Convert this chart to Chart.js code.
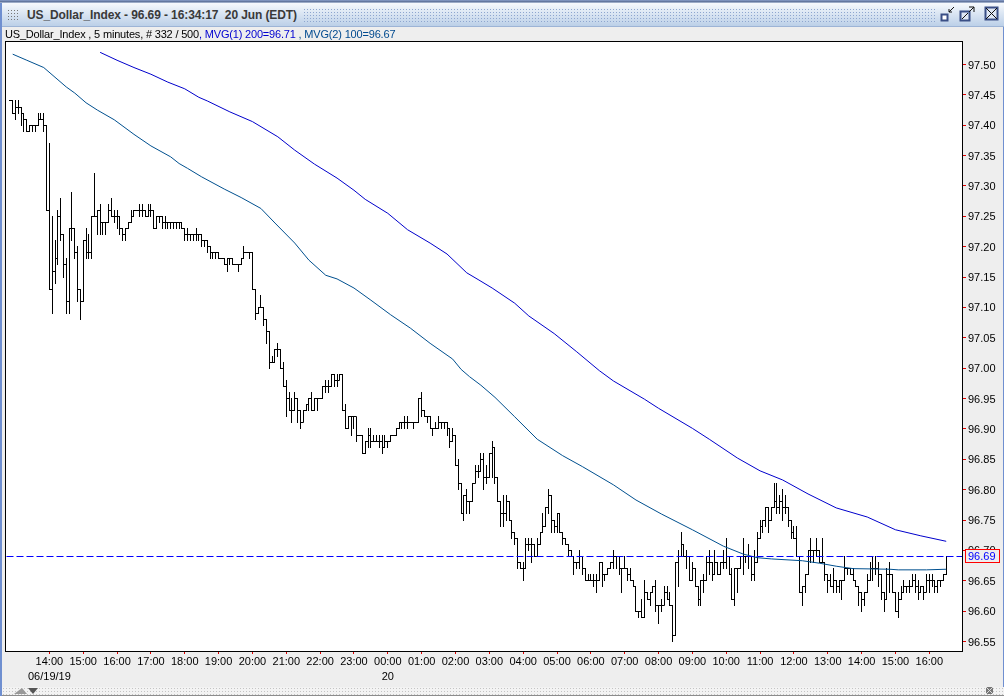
<!DOCTYPE html>
<html>
<head>
<meta charset="utf-8">
<title>US_Dollar_Index</title>
<script src="https://cdn.jsdelivr.net/npm/chart.js@4"></script>
<style>
html, body { margin: 0; padding: 0; background: #eeeeee; width: 1004px; height: 696px; overflow: hidden; }
body { position: relative; font-family: "Liberation Sans", Arial, sans-serif; }
#myChart { position: absolute; left: 0; top: 0; }
.edgeL { position: absolute; left: 0; top: 0; width: 2px; height: 696px; background: #6f8fd0; }
.edgeR { position: absolute; right: 0; top: 0; width: 1px; height: 696px; background: #6f8fd0; }
.topline { position: absolute; left: 0; top: 0; width: 1004px; height: 3px; background: linear-gradient(#8aa0cc, #5c6f96 60%, #c9d6ea); }
.titlebar { position: absolute; left: 2px; top: 3px; width: 1002px; height: 23px; background: linear-gradient(#f6f9fd, #dbe6f3 45%, #bcd0e8); border-bottom: 1px solid #9db4d6; }
.titletext { position: absolute; left: 27px; top: 7px; font-size: 12px; letter-spacing: -0.1px; font-weight: bold; color: #3a3a3a; white-space: pre; line-height: 16px; }
.dots { position: absolute; left: 303px; top: 8px; width: 632px; height: 15px; background: radial-gradient(circle, #8ea6cf 38%, transparent 42%) 0 0 / 3px 3px; }
.grip { position: absolute; left: 7px; top: 9px; width: 13px; height: 12px; background: radial-gradient(circle, #777 40%, transparent 45%) 0 0 / 3px 3px; }
.legend { position: absolute; left: 5px; top: 27px; font-size: 11px; letter-spacing: -0.18px; line-height: 14px; white-space: pre; color: #000; }
.footer { position: absolute; left: 2px; top: 687px; width: 1002px; height: 8px; background: radial-gradient(circle, #c4c4c4 35%, transparent 40%) 0 0 / 3px 3px #f3f3f3; border-bottom: 1px solid #8c8c8c; }
svg.ico { position: absolute; }
</style>
</head>
<body>
<canvas id="myChart" width="1004" height="696"></canvas>
<div class="edgeL"></div><div class="edgeR"></div>
<div class="topline"></div>
<div class="titlebar"></div>
<div class="dots"></div>
<div class="grip"></div>
<div class="titletext">US_Dollar_Index - 96.69 - 16:34:17  20 Jun (EDT)</div>
<svg class="ico" style="left:938px;top:5px" width="18" height="18"><path d="M16 2 L11 7 M11 4 V7 H14" stroke="#111" fill="none"/><rect x="3.5" y="9.5" width="6" height="6" fill="#fff" stroke="#3a4f86" stroke-width="2"/></svg>
<svg class="ico" style="left:958px;top:5px" width="18" height="18"><rect x="2.5" y="6.5" width="9" height="9" fill="#dfe7f4" stroke="#3a4f86" stroke-width="2"/><path d="M4 14 L10 8 M11 2 H16 V7 M16 2 L11 7" stroke="#111" fill="none"/></svg>
<svg class="ico" style="left:984px;top:6px" width="16" height="16"><rect x="1.5" y="1.5" width="12" height="12" fill="#dfe7f4" stroke="#3a4f86" stroke-width="2"/><path d="M2 2 L13 13 M13 2 L2 13" stroke="#111" fill="none"/></svg>
<div class="legend">US_Dollar_Index , 5 minutes, # 332 / 500<span style="color:#0000d0">, MVG(1) 200=96.71 </span><span style="color:#004a8f">, MVG(2) 100=96.67</span></div>
<div class="footer"></div>
<svg class="ico" style="left:10px;top:686px" width="30" height="9"><path d="M4 8 L12 2 L17 8 Z" fill="#999"/><path d="M18 2 H28 L23 8 Z" fill="#555"/></svg>
<svg class="ico" style="left:986px;top:687px" width="8" height="8"><rect x="0" y="0" width="7" height="7" fill="#777"/><path d="M0 0 L7 7 M7 0 L0 7" stroke="#ddd"/></svg>

<script>
// bar number along x, first entry is the opening level of the first bar
const highs = [
97.44,97.44,97.44,97.44,97.43,97.42,97.41,97.40,97.40,97.40,
97.42,97.42,97.42,97.40,97.37,97.25,97.21,97.26,97.28,97.22,
97.18,97.23,97.29,97.23,97.20,97.13,97.21,97.23,97.22,97.25,
97.32,97.26,97.27,97.24,97.24,97.27,97.28,97.26,97.26,97.25,
97.23,97.23,97.24,97.26,97.26,97.26,97.27,97.27,97.26,97.27,
97.27,97.26,97.25,97.25,97.25,97.25,97.24,97.24,97.24,97.24,
97.24,97.24,97.23,97.23,97.22,97.22,97.23,97.22,97.22,97.21,
97.21,97.20,97.19,97.19,97.19,97.18,97.18,97.18,97.18,97.18,
97.17,97.17,97.18,97.20,97.19,97.19,97.19,97.13,97.10,97.12,
97.10,97.08,97.06,97.02,97.03,97.04,97.03,97.01,96.98,96.96,
96.95,96.96,96.95,96.93,96.93,96.94,96.95,96.96,96.95,96.95,
96.95,96.97,96.98,96.98,96.99,96.99,96.99,96.99,96.99,96.94,
96.92,96.92,96.92,96.91,96.89,96.89,96.88,96.90,96.90,96.89,
96.89,96.89,96.89,96.89,96.88,96.89,96.89,96.90,96.91,96.91,
96.92,96.92,96.91,96.91,96.91,96.95,96.96,96.93,96.92,96.92,
96.90,96.91,96.92,96.91,96.91,96.91,96.90,96.90,96.89,96.85,
96.81,96.79,96.80,96.78,96.81,96.84,96.84,96.86,96.86,96.84,
96.86,96.88,96.87,96.82,96.78,96.79,96.79,96.78,96.75,96.73,
96.72,96.68,96.68,96.72,96.72,96.72,96.71,96.72,96.73,96.76,
96.77,96.80,96.79,96.75,96.76,96.76,96.73,96.72,96.71,96.70,
96.69,96.68,96.70,96.69,96.67,96.66,96.66,96.66,96.66,96.68,
96.68,96.66,96.67,96.68,96.70,96.69,96.69,96.67,96.69,96.67,
96.67,96.65,96.64,96.60,96.62,96.65,96.63,96.63,96.64,96.65,
96.61,96.62,96.64,96.64,96.63,96.61,96.68,96.70,96.73,96.71,
96.70,96.69,96.68,96.67,96.64,96.65,96.66,96.69,96.70,96.68,
96.70,96.68,96.68,96.70,96.72,96.69,96.67,96.67,96.67,96.69,
96.72,96.69,96.71,96.68,96.70,96.73,96.75,96.75,96.77,96.77,
96.77,96.81,96.81,96.79,96.80,96.79,96.77,96.75,96.74,96.74,
96.69,96.64,96.66,96.70,96.72,96.70,96.72,96.70,96.72,96.68,
96.66,96.66,96.67,96.65,96.65,96.65,96.69,96.67,96.67,96.67,
96.65,96.64,96.63,96.63,96.66,96.68,96.69,96.69,96.68,96.66,
96.63,96.67,96.68,96.66,96.63,96.63,96.64,96.65,96.64,96.65,
96.66,96.66,96.65,96.64,96.64,96.66,96.66,96.66,96.65,96.65,
96.65,96.66,96.69];
const lows = [
97.44,97.42,97.41,97.42,97.40,97.39,97.39,97.39,97.39,97.39,
97.40,97.41,97.39,97.26,97.13,97.09,97.14,97.17,97.21,97.15,
97.09,97.09,97.21,97.18,97.11,97.08,97.11,97.18,97.18,97.18,
97.25,97.22,97.22,97.22,97.22,97.24,97.25,97.24,97.23,97.22,
97.21,97.21,97.23,97.24,97.25,97.26,97.25,97.25,97.25,97.25,
97.25,97.23,97.23,97.24,97.23,97.23,97.23,97.23,97.23,97.23,
97.23,97.23,97.21,97.21,97.21,97.21,97.21,97.21,97.20,97.20,
97.19,97.18,97.18,97.18,97.18,97.18,97.17,97.16,97.17,97.17,
97.17,97.16,97.17,97.18,97.19,97.18,97.13,97.08,97.09,97.10,
97.07,97.04,97.00,97.01,97.01,97.02,97.00,96.97,96.92,96.93,
96.91,96.93,96.91,96.90,96.92,96.93,96.93,96.93,96.93,96.93,
96.95,96.95,96.96,96.96,96.97,96.97,96.97,96.99,96.93,96.90,
96.90,96.89,96.90,96.88,96.89,96.86,96.86,96.87,96.87,96.88,
96.88,96.87,96.86,96.87,96.87,96.88,96.89,96.89,96.90,96.90,
96.90,96.90,96.91,96.90,96.91,96.91,96.92,96.92,96.91,96.90,
96.89,96.90,96.90,96.90,96.90,96.89,96.87,96.88,96.84,96.80,
96.76,96.75,96.76,96.76,96.78,96.82,96.82,96.83,96.80,96.81,
96.82,96.82,96.81,96.78,96.74,96.74,96.75,96.75,96.72,96.71,
96.67,96.67,96.65,96.67,96.70,96.68,96.69,96.69,96.71,96.73,
96.74,96.76,96.73,96.73,96.73,96.73,96.71,96.71,96.69,96.69,
96.66,96.67,96.67,96.66,96.65,96.65,96.65,96.64,96.63,96.65,
96.64,96.65,96.66,96.67,96.67,96.67,96.66,96.63,96.67,96.65,
96.65,96.64,96.60,96.59,96.59,96.59,96.62,96.61,96.63,96.60,
96.58,96.60,96.62,96.62,96.61,96.55,96.56,96.64,96.69,96.69,
96.67,96.65,96.65,96.64,96.61,96.61,96.63,96.65,96.66,96.65,
96.66,96.66,96.66,96.67,96.67,96.66,96.62,96.61,96.63,96.67,
96.66,96.68,96.67,96.65,96.65,96.68,96.72,96.73,96.74,96.73,
96.75,96.77,96.76,96.76,96.75,96.76,96.74,96.72,96.72,96.69,
96.63,96.61,96.63,96.66,96.68,96.68,96.69,96.68,96.68,96.65,
96.63,96.64,96.63,96.63,96.63,96.62,96.65,96.66,96.66,96.65,
96.64,96.61,96.60,96.61,96.63,96.65,96.65,96.66,96.64,96.62,
96.60,96.62,96.63,96.63,96.60,96.59,96.62,96.63,96.63,96.63,
96.64,96.63,96.62,96.63,96.62,96.64,96.63,96.64,96.63,96.63,
96.64,96.65,96.66];
const closes = [
97.44,97.42,97.43,97.43,97.42,97.41,97.39,97.40,97.40,97.40,
97.41,97.41,97.40,97.26,97.13,97.16,97.18,97.25,97.22,97.17,
97.11,97.23,97.23,97.19,97.13,97.11,97.21,97.19,97.19,97.25,
97.25,97.26,97.24,97.24,97.24,97.26,97.25,97.25,97.25,97.23,
97.22,97.23,97.24,97.25,97.26,97.26,97.26,97.26,97.25,97.26,
97.26,97.23,97.25,97.25,97.24,97.24,97.24,97.24,97.24,97.24,
97.24,97.23,97.22,97.22,97.22,97.22,97.22,97.22,97.21,97.21,
97.20,97.19,97.19,97.19,97.18,97.18,97.17,97.18,97.18,97.17,
97.17,97.17,97.18,97.19,97.19,97.19,97.13,97.09,97.10,97.10,
97.08,97.06,97.01,97.01,97.03,97.03,97.00,96.97,96.95,96.93,
96.93,96.95,96.93,96.91,96.93,96.94,96.95,96.93,96.95,96.95,
96.95,96.97,96.97,96.97,96.99,96.98,96.98,96.99,96.93,96.90,
96.92,96.92,96.92,96.89,96.89,96.86,96.88,96.89,96.88,96.88,
96.88,96.88,96.87,96.88,96.88,96.89,96.89,96.90,96.91,96.91,
96.91,96.91,96.91,96.91,96.91,96.95,96.93,96.92,96.92,96.90,
96.90,96.90,96.91,96.91,96.91,96.90,96.88,96.89,96.84,96.81,
96.76,96.79,96.78,96.78,96.81,96.83,96.83,96.85,96.82,96.82,
96.86,96.87,96.82,96.78,96.76,96.76,96.78,96.75,96.73,96.72,
96.68,96.67,96.67,96.71,96.71,96.71,96.69,96.71,96.73,96.74,
96.77,96.79,96.75,96.74,96.76,96.73,96.72,96.71,96.70,96.69,
96.68,96.68,96.69,96.67,96.65,96.65,96.65,96.65,96.65,96.68,
96.66,96.66,96.67,96.68,96.69,96.69,96.67,96.67,96.67,96.66,
96.65,96.64,96.60,96.60,96.59,96.63,96.62,96.63,96.64,96.61,
96.61,96.61,96.63,96.62,96.61,96.56,96.68,96.69,96.71,96.69,
96.69,96.65,96.67,96.64,96.62,96.65,96.65,96.68,96.68,96.66,
96.68,96.66,96.68,96.68,96.69,96.66,96.62,96.67,96.67,96.69,
96.69,96.69,96.69,96.66,96.68,96.72,96.74,96.75,96.77,96.75,
96.77,96.78,96.77,96.78,96.77,96.77,96.75,96.73,96.72,96.69,
96.63,96.64,96.66,96.70,96.70,96.70,96.70,96.68,96.68,96.66,
96.65,96.64,96.65,96.64,96.65,96.65,96.67,96.67,96.66,96.65,
96.64,96.63,96.62,96.63,96.65,96.67,96.67,96.67,96.66,96.63,
96.62,96.66,96.66,96.63,96.60,96.62,96.63,96.64,96.64,96.64,
96.65,96.64,96.63,96.64,96.63,96.65,96.65,96.65,96.64,96.65,
96.65,96.66,96.69];

// moving averages as [bar, value]
const mvg200 = [
[32,97.520],[38,97.507],[44,97.495],[50,97.484],[56,97.471],[62,97.460],[67,97.446],[70,97.440],
[78,97.422],[86,97.406],[95,97.381],[101,97.359],[108,97.336],[116,97.313],[122,97.293],[126,97.278],
[134,97.255],[141,97.228],[149,97.206],[155,97.188],[162,97.157],[166,97.146],[171,97.132],[179,97.107],
[184,97.086],[193,97.057],[201,97.027],[209,96.996],[214,96.979],[225,96.949],[230,96.934],[242,96.901],
[248,96.883],[258,96.852],[266,96.831],[274,96.816],[283,96.793],[293,96.770],[304,96.755],[314,96.734],
[323,96.724],[332,96.715]];
const mvg100 = [
[1,97.517],[6,97.507],[12,97.495],[16,97.479],[20,97.463],[23,97.453],[27,97.437],[31,97.425],[37,97.409],
[44,97.385],[50,97.366],[57,97.348],[60,97.337],[63,97.329],[68,97.315],[76,97.295],[82,97.281],[89,97.263],
[94,97.239],[101,97.206],[106,97.178],[112,97.153],[116,97.147],[122,97.132],[128,97.112],[135,97.088],
[142,97.066],[149,97.041],[157,97.015],[160,96.998],[163,96.986],[167,96.972],[172,96.952],[179,96.920],
[187,96.883],[196,96.856],[203,96.838],[214,96.808],[222,96.783],[231,96.760],[242,96.734],[253,96.707],
[260,96.694],[265,96.688],[270,96.686],[281,96.683],[287,96.679],[293,96.674],[299,96.670],[312,96.669],
[315,96.668],[325,96.668],[332,96.669]];

const priceTicks = [96.55,96.60,96.65,96.70,96.75,96.80,96.85,96.90,96.95,97.00,97.05,97.10,97.15,
    97.20,97.25,97.30,97.35,97.40,97.45,97.50];
const timeTicks = [14,26,38,50,62,74,86,98,110,122,134,146,158,170,182,194,206,218,230,242,254,266,278,290,302,314,326];
const timeLabels = ['14:00','15:00','16:00','17:00','18:00','19:00','20:00','21:00','22:00','23:00','00:00',
    '01:00','02:00','03:00','04:00','05:00','06:00','07:00','08:00','09:00','10:00','11:00','12:00',
    '13:00','14:00','15:00','16:00'];
const dateLabels = {'14': '06/19/19', '134': '20'};
const lastPrice = 96.69;

const xMin = -1.38, xMax = 337.6;
const yMin = 96.5344, yMax = 97.5387;

const toPoints = (rows) => rows.map((r) => ({x: r[0], y: r[1]}));

// the price marks sit on whole pixels so they stay one crisp pixel wide
const snapMarks = {
    id: 'snapMarks',
    afterDatasetsUpdate(chart) {
        chart.getDatasetMeta(0).data.forEach((bar) => {
            const top = Math.min(bar.y, bar.base);
            const bottom = Math.max(bar.y, bar.base);
            bar.x = Math.floor(bar.x) + 0.5;
            bar.y = Math.floor(top);
            bar.base = Math.floor(bottom) + 1;
        });
        [1, 4].forEach((idx) => {
            chart.getDatasetMeta(idx).data.forEach((pt) => {
                pt.x = Math.floor(pt.x) + 0.5;
                pt.y = Math.floor(pt.y) + 0.5;
            });
        });
    }
};

const frameAndPrice = {
    id: 'frameAndPrice',
    beforeDatasetsDraw(chart) {
        const {ctx, chartArea: a} = chart;
        ctx.save();
        ctx.fillStyle = '#ffffff';
        ctx.fillRect(a.left, a.top, a.width, a.height);
        ctx.restore();
    },
    afterDraw(chart) {
        const {ctx, chartArea: a, scales} = chart;
        ctx.save();
        ctx.strokeStyle = '#000000';
        ctx.lineWidth = 1;
        ctx.strokeRect(a.left - 0.5, a.top + 0.5, a.width + 1, a.height);
        // last price box on the axis
        const y = Math.floor(scales.y.getPixelForValue(lastPrice));
        ctx.fillStyle = '#eeeeee';
        ctx.fillRect(965.5, y - 6.5, 34, 13);
        ctx.strokeStyle = '#ff0000';
        ctx.strokeRect(965.5, y - 6.5, 34, 13);
        ctx.fillStyle = '#0000ff';
        ctx.font = '11px "Liberation Sans"';
        ctx.textBaseline = 'middle';
        ctx.fillText(lastPrice.toFixed(2), 968, y + 1);
        ctx.restore();
    }
};

document.addEventListener('DOMContentLoaded', () => {
    const ctx = document.getElementById('myChart').getContext('2d');
    new Chart(ctx, {
        type: 'bar',
        data: {
            datasets: [
                {
                    label: 'High-Low',
                    data: highs.map((h, i) => ({x: i, y: [lows[i], h]})),
                    backgroundColor: '#000000',
                    barThickness: 1,
                    inflateAmount: 0,
                    order: 4
                },
                {
                    type: 'line',
                    label: 'Close',
                    data: closes.map((c, i) => ({x: i, y: c})),
                    stepped: 'before',
                    borderColor: '#000000',
                    borderWidth: 1,
                    pointRadius: 0,
                    order: 3
                },
                {
                    type: 'line',
                    label: 'MVG(1) 200',
                    data: toPoints(mvg200),
                    borderColor: '#0000cc',
                    borderWidth: 1,
                    pointRadius: 0,
                    order: 1
                },
                {
                    type: 'line',
                    label: 'MVG(2) 100',
                    data: toPoints(mvg100),
                    borderColor: '#00508f',
                    borderWidth: 1,
                    pointRadius: 0,
                    order: 2
                },
                {
                    type: 'line',
                    label: 'Last',
                    data: [{x: xMin, y: lastPrice}, {x: xMax, y: lastPrice}],
                    borderColor: '#0000ff',
                    borderWidth: 1,
                    borderDash: [7, 3],
                    pointRadius: 0,
                    order: 0
                }
            ]
        },
        options: {
            responsive: false,
            animation: false,
            devicePixelRatio: 1,
            layout: {padding: {left: 6, top: 41, right: 0, bottom: 0}},
            plugins: {legend: {display: false}, tooltip: {enabled: false}},
            scales: {
                x: {
                    type: 'linear',
                    offset: false,
                    min: xMin,
                    max: xMax,
                    border: {display: false},
                    grid: {offset: false, drawOnChartArea: false, drawTicks: true, tickColor: '#e00000', tickLength: 3},
                    afterBuildTicks: (scale) => {
                        scale.ticks = timeTicks.map((v) => ({value: v}));
                    },
                    afterFit: (scale) => { scale.height = 45; },
                    ticks: {
                        autoSkip: false,
                        maxRotation: 0,
                        padding: 1,
                        color: '#000000',
                        font: {family: '"Liberation Sans"', size: 11, lineHeight: 1.35},
                        callback: (value) => {
                            const label = timeLabels[timeTicks.indexOf(value)];
                            const date = dateLabels[value];
                            return date ? [label, date] : label;
                        }
                    }
                },
                y: {
                    position: 'right',
                    min: yMin,
                    max: yMax,
                    border: {display: false},
                    grid: {drawOnChartArea: false, drawTicks: true, tickColor: '#e00000', tickLength: 4},
                    afterBuildTicks: (scale) => {
                        scale.ticks = priceTicks.map((v) => ({value: v}));
                    },
                    afterFit: (scale) => { scale.width = 42; },
                    ticks: {
                        padding: 2,
                        labelOffset: 1,
                        color: '#000000',
                        font: {family: '"Liberation Sans"', size: 11},
                        callback: (value) => value.toFixed(2)
                    }
                }
            }
        },
        plugins: [snapMarks, frameAndPrice]
    });
});
</script>
</body>
</html>
